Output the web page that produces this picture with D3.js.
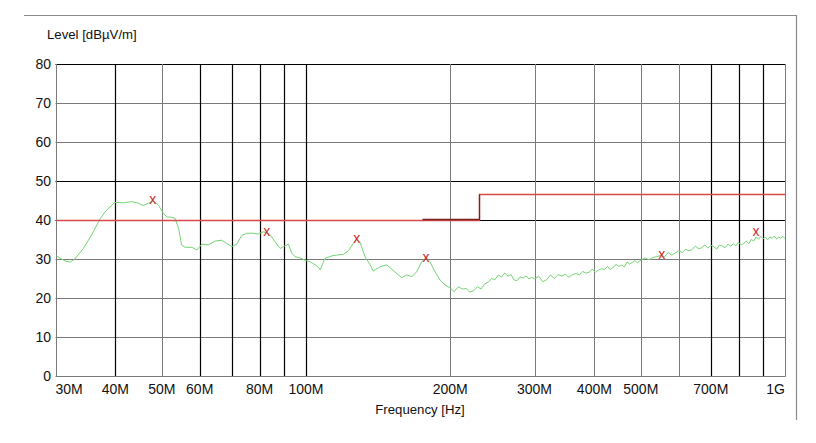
<!DOCTYPE html>
<html><head><meta charset="utf-8">
<script src="https://cdn.jsdelivr.net/npm/d3@7"></script>
<style>
body{margin:0;background:#fff;}
text{font-family:"Liberation Sans",Arial,sans-serif;fill:#111;}
</style>
</head><body>
<svg id="c" width="816" height="443"></svg>
<script>
// ---------- data ----------
const yTickValues = [0,10,20,30,40,50,60,70,80];
const xGridMHz = [40,50,60,70,80,90,100,200,300,400,500,600,700,800,900];
const xTickValues = [30,40,50,60,80,100,200,300,400,500,700,1000];
const xTickLabels = ["30M","40M","50M","60M","80M","100M","200M","300M","400M","500M","700M","1G"];

const limitFreq  = [30,230,230,1000];
const limitLevel = [40,40,46.6,46.6];
const limit2Freq  = [175,230,230];
const limit2Level = [40.25,40.25,46.6];

const markerFreq  = [47.9,82.8,127.6,178,553,870];
const markerLevel = [45.1,37.0,35.1,30.2,31.0,36.9];

// measured trace [MHz, dBuV/m]
const traceFreq = [
30.1,31.4,32.2,32.9,34.3,35.7,37.2,38.4,39.9,41.6,43.3,44.7,45.7,46.9,48.0,49.2,50.4,51.2,52.5,53.3,
54.2,55.0,55.9,57.8,59.2,60.6,62.5,64.6,66.7,68.3,70.0,71.7,73.4,75.2,77.6,79.5,81.5,84.1,86.2,88.3,
89.7,91.9,93.4,94.9,97.2,99.5,102.0,104.5,106.1,107.0,109.6,113.2,116.0,119.7,122.6,125.6,127.6,129.7,132.8,136.1,
138.2,142.8,147.4,151.0,154.9,158.5,162.3,166.3,170.3,174.4,178.1,181.5,186.0,190.5,195.2,
200,204,208,212,216,220,224,228,232,236,240,244,248,252,256,260,264,268,272,276,280,284,288,292,296,
300,306,312,318,324,330,336,342,348,354,360,366,372,378,384,390,396,402,408,414,420,426,432,438,444,
450,456,462,468,474,480,486,492,498,
510,520,530,540,550,560,570,580,590,600,610,620,630,640,650,660,670,680,690,700,710,720,730,740,750,
760,770,780,790,800,810,820,830,840,850,860,870,880,890,900,910,920,930,940,950,960,970,980,990,1000];
const traceLevel = [
30.8,29.5,29.2,30.0,32.7,36.2,40.4,42.6,44.5,44.4,44.7,44.3,43.7,44.3,44.9,43.8,41.7,40.8,40.7,40.4,
37.9,33.6,33.0,33.0,32.3,33.8,33.6,34.6,34.8,34.0,33.2,33.8,36.0,36.6,36.6,36.4,37.0,36.3,34.4,32.7,
33.2,33.8,31.5,30.6,30.3,29.7,29.3,28.5,28.0,27.2,30.2,30.8,31.0,31.2,32.1,34.0,35.1,34.3,30.6,28.5,
26.9,28.0,28.5,27.4,26.2,25.2,25.9,25.5,26.7,29.3,30.3,29.3,26.7,24.6,23.3,
22.6,21.6,22.9,22.3,22.4,21.5,21.9,22.9,22.3,23.6,24.0,25.0,24.7,25.9,25.4,26.4,25.6,26.0,24.6,24.5,25.4,25.1,25.7,24.9,25.3,
24.9,25.6,24.2,24.7,25.9,25.0,26.0,25.6,26.1,25.3,26.0,26.3,25.9,26.8,26.4,26.6,27.4,26.6,27.2,27.5,27.3,28.1,27.3,27.9,28.6,
28.1,28.4,28.0,29.2,28.7,29.1,29.6,29.0,29.5,
30.3,29.8,30.4,30.6,30.9,30.5,31.7,31.0,31.5,32.2,31.6,32.5,32.1,32.4,33.3,32.6,32.9,33.6,32.8,33.5,33.2,32.5,33.6,33.3,32.9,
33.8,33.3,33.9,33.4,34.3,33.6,34.0,34.6,33.9,35.0,34.6,35.6,35.1,35.8,35.2,35.6,34.9,35.7,35.3,35.9,35.1,35.6,35.3,35.8,35.2];

// ---------- drawing ----------
const svg = d3.select("#c");
const x = d3.scaleLog().domain([30,1000]).range([55.5,785]);
const y = d3.scaleLinear().domain([0,80]).range([376,64]);

const darkY = new Set([80,50,40]);
const darkX = new Set([40,60,70,80,90,100,700,800,900]);
const px = v => Math.round(v)+0.5;

// outer frame (top + right)
svg.append("path").attr("d","M24,15.5H796.5V420")
  .attr("fill","none").attr("stroke","#8a8a8a").attr("stroke-width",1.2);

// horizontal grid
svg.append("g").selectAll("line").data(yTickValues).join("line")
  .attr("x1",x(30)).attr("x2",x(1000))
  .attr("y1",d=>px(y(d))).attr("y2",d=>px(y(d)))
  .attr("stroke",d=>darkY.has(d)?"#000":"#7a7a7a")
  .attr("stroke-width",d=>darkY.has(d)?1.2:1);

// vertical grid
svg.append("g").selectAll("line").data(xGridMHz).join("line")
  .attr("x1",d=>px(x(d))).attr("x2",d=>px(x(d)))
  .attr("y1",y(80)).attr("y2",y(0))
  .attr("stroke",d=>darkX.has(d)?"#000":"#7a7a7a")
  .attr("stroke-width",d=>darkX.has(d)?1.2:1);

// plot borders left/right/bottom
svg.append("path")
  .attr("d",`M${px(x(30))},${y(80)}V${px(y(0))}H${px(x(1000))}V${y(80)}`)
  .attr("fill","none").attr("stroke","#7a7a7a");

// y tick labels
svg.append("g").selectAll("text").data(yTickValues).join("text")
  .attr("x",51).attr("y",d=>y(d)).attr("dy","0.36em")
  .attr("text-anchor","end").attr("font-size",14).text(d=>d);

// x tick labels
svg.append("g").selectAll("text").data(xTickValues).join("text")
  .attr("x",(d,i)=>x(d)).attr("y",394)
  .attr("text-anchor",(d,i)=>i===0?"start":(i===xTickValues.length-1?"end":"middle"))
  .attr("font-size",14).text((d,i)=>xTickLabels[i]);

// axis titles
svg.append("text").attr("x",47).attr("y",39).attr("font-size",13.2).text("Level [dBµV/m]");
svg.append("text").attr("x",420).attr("y",414).attr("text-anchor","middle").attr("font-size",13.2).text("Frequency [Hz]");

// trace
const line = d3.line().x(d=>x(d[0])).y(d=>y(d[1]));
svg.append("path").datum(traceFreq.map((f,i)=>[f,traceLevel[i]]))
  .attr("d",line).attr("fill","none").attr("stroke","#74d474").attr("stroke-width",1);

// limit lines (pixel-aligned so they cover the grid line crisply)
const stepLine = d3.line().x(d=>px(x(d[0]))).y(d=>px(y(d[1])));
svg.append("path").datum(limitFreq.map((f,i)=>[f,limitLevel[i]]))
  .attr("d",stepLine).attr("fill","none").attr("stroke","#d84848").attr("stroke-width",1.3);
svg.append("path").datum(limit2Freq.map((f,i)=>[f,limit2Level[i]]))
  .attr("d",stepLine).attr("fill","none").attr("stroke","#7a2020").attr("stroke-width",1.3);

// markers
svg.append("g").selectAll("text").data(markerFreq).join("text")
  .attr("x",d=>x(d)).attr("y",(d,i)=>y(markerLevel[i])).attr("dy","0.3em")
  .attr("text-anchor","middle").attr("font-size",14)
  .style("fill","#d02a2a").text("x");
</script>
</body></html>
